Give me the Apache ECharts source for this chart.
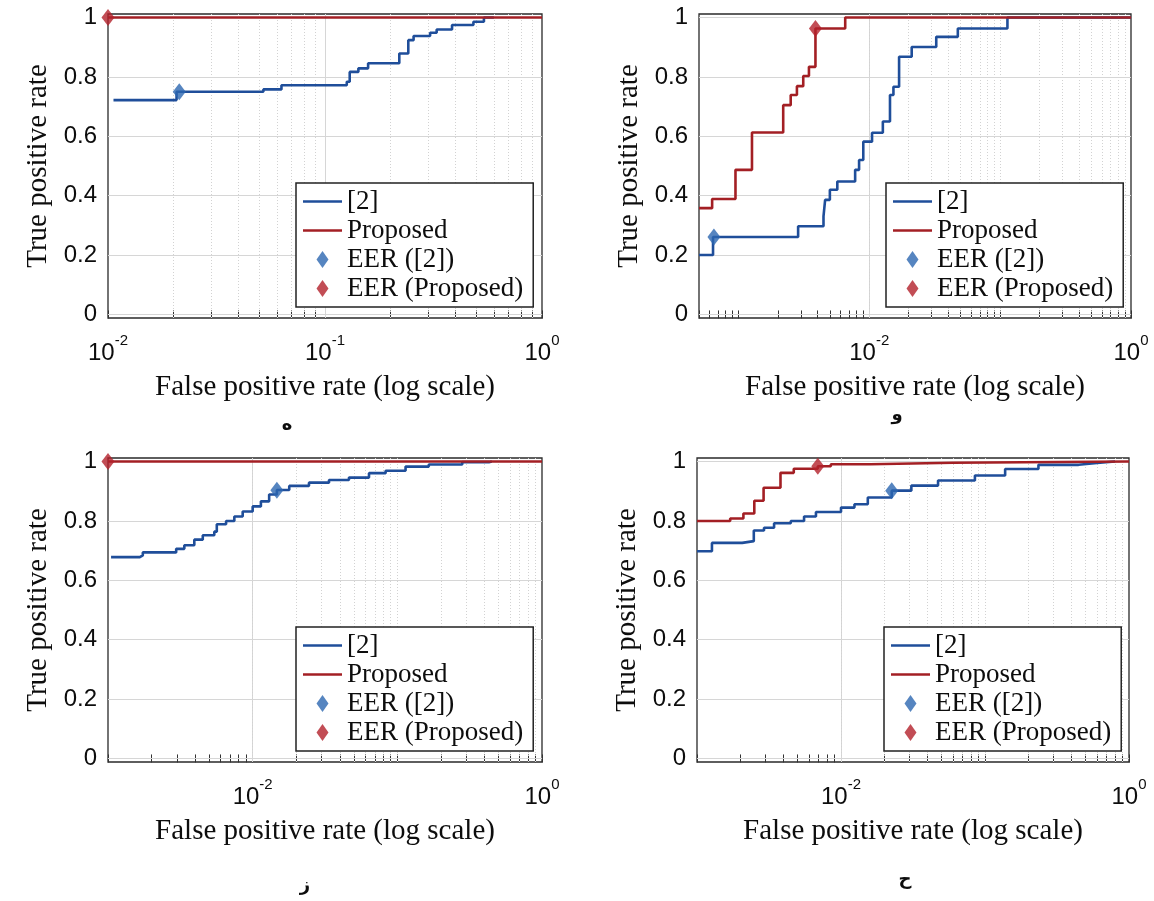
<!DOCTYPE html>
<html>
<head>
<meta charset="utf-8">
<title>ROC curves</title>
<script src="https://cdn.jsdelivr.net/npm/echarts@6/dist/echarts.min.js"></script>
<style>
  html, body { margin: 0; padding: 0; background: #fff; }
  #chart { width: 1154px; height: 901px; }
</style>
</head>
<body>
<div id="chart"></div>
<script>
// names and ticks
const seriesNames = ['[2]', 'Proposed', 'EER ([2])', 'EER (Proposed)'];
const panelLetters = ['ه', 'و', 'ز', 'ح'];
const yTicks = [0, 0.2, 0.4, 0.6, 0.8, 1];
const xTickLabels = [[0.01, 0.1, 1], [0.01, 1], [0.01, 1], [0.01, 1]];
const xMins = [0.01, 0.0005, 0.001, 0.001];

// panel a (top left)
const aRefFpr = [0.0106, 0.0207, 0.052, 0.063, 0.126, 0.13, 0.1425, 0.158, 0.22, 0.242, 0.256, 0.305, 0.327, 0.385, 0.483, 0.54, 0.6];
const aRefTpr = [0.722, 0.75, 0.758, 0.772, 0.784, 0.817, 0.829, 0.846, 0.879, 0.924, 0.938, 0.949, 0.96, 0.975, 0.986, 1.0, 1.0];
const aPropFpr = [0.01, 1];
const aPropTpr = [1, 1];
const aEerRef = [0.0213, 0.75];
const aEerProp = [0.01, 1];

// panel b (top right)
const bRefFpr = [0.0005, 0.00064, 0.00286, 0.00447, 0.0046, 0.005, 0.0057, 0.0078, 0.00836, 0.009, 0.0105, 0.0127, 0.0144, 0.0153, 0.0169, 0.0211, 0.0325, 0.0475, 0.1137, 1];
const bRefTpr = [0.2, 0.261, 0.297, 0.33, 0.386, 0.42, 0.448, 0.487, 0.52, 0.582, 0.612, 0.65, 0.739, 0.767, 0.868, 0.901, 0.935, 0.963, 1.0, 1.0];
const bPropFpr = [0.0005, 0.00063, 0.00095, 0.00127, 0.0022, 0.00251, 0.0028, 0.00313, 0.00346, 0.00388, 0.00655, 1];
const bPropTpr = [0.358, 0.389, 0.487, 0.613, 0.705, 0.739, 0.769, 0.803, 0.834, 0.963, 1.0, 1.0];
const bEerRef = [0.00065, 0.261];
const bEerProp = [0.00388, 0.963];

// panel c (bottom left)
const cRefFpr = [0.00105, 0.00166, 0.00174, 0.00296, 0.00337, 0.00395, 0.00452, 0.00543, 0.00565, 0.00655, 0.00747, 0.00853, 0.01, 0.0114, 0.013, 0.0147, 0.0179, 0.0245, 0.0337, 0.0463, 0.0637, 0.083, 0.114, 0.165, 0.281, 0.43, 0.45];
const cRefTpr = [0.678, 0.684, 0.694, 0.706, 0.718, 0.737, 0.752, 0.764, 0.789, 0.8, 0.815, 0.832, 0.849, 0.866, 0.889, 0.904, 0.918, 0.929, 0.938, 0.946, 0.961, 0.969, 0.983, 0.99, 0.998, 1.0, 1.0];
const cPropFpr = [0.001, 1];
const cPropTpr = [1, 1];
const cEerRef = [0.0147, 0.903];
const cEerProp = [0.001, 1];

// panel d (bottom right)
const dRefFpr = [0.001, 0.00127, 0.00206, 0.00248, 0.00292, 0.00343, 0.00448, 0.00554, 0.0067, 0.01, 0.0124, 0.01535, 0.0225, 0.0308, 0.0472, 0.0851, 0.138, 0.235, 0.447, 0.6, 0.8];
const dRefTpr = [0.698, 0.726, 0.732, 0.768, 0.777, 0.792, 0.8, 0.815, 0.83, 0.845, 0.856, 0.879, 0.902, 0.919, 0.936, 0.953, 0.975, 0.989, 0.995, 1.0, 1.0];
const dPropFpr = [0.001, 0.0017, 0.0021, 0.0025, 0.0029, 0.0038, 0.0047, 0.0069, 0.0085, 0.016, 0.06, 1];
const dPropTpr = [0.8, 0.808, 0.825, 0.868, 0.912, 0.962, 0.976, 0.984, 0.991, 0.996, 1.0, 1.0];
const dEerRef = [0.0225, 0.902];
const dEerProp = [0.0069, 0.984];

const panels = [
  { ref: [aRefFpr, aRefTpr], prop: [aPropFpr, aPropTpr], eer: [aEerRef, aEerProp] },
  { ref: [bRefFpr, bRefTpr], prop: [bPropFpr, bPropTpr], eer: [bEerRef, bEerProp] },
  { ref: [cRefFpr, cRefTpr], prop: [cPropFpr, cPropTpr], eer: [cEerRef, cEerProp] },
  { ref: [dRefFpr, dRefTpr], prop: [dPropFpr, dPropTpr], eer: [dEerRef, dEerProp] }
];

// layout (pixels)
const gridBoxes = [
  { left: 108, top: 14, width: 434, height: 304 },
  { left: 699, top: 14, width: 432, height: 304 },
  { left: 108, top: 458, width: 434, height: 304 },
  { left: 697, top: 458, width: 432, height: 304 }
];
const legendPos = [[296, 183], [886, 183], [296, 627], [884, 627]];
const letterPos = [[287, 425], [897, 415], [305, 886], [905, 880]];

const BLUE = '#1f4e9a';
const RED = '#a31f24';
const BLUE_MK = '#2c66b0';
const RED_MK = '#b3202a';
const INK = '#0d0d0d';
const SERIF = '"Liberation Serif", "Times New Roman", serif';
const SANS = '"Liberation Sans", Arial, sans-serif';
const DIAMOND = 'path://M6,0L12,8.5L6,17L0,8.5Z';
const BAR = 'path://M0,0H40V2.7H0Z';

const zip = (xs, ys) => xs.map((x, i) => [x, ys[i]]);

// decade and 2..9 minor positions inside [min, 1]
function logTicks(min) {
  const major = [], minor = [];
  for (let e = Math.floor(Math.log10(min) + 1e-9); e <= 0; e++) {
    for (let k = 1; k <= 9; k++) {
      const v = +(k * Math.pow(10, e)).toPrecision(6);
      if (v < min * 0.999 || v > 1.0001) continue;
      (k === 1 ? major : minor).push(v);
    }
  }
  return { major, minor };
}

const majorLine = { color: '#d6d6d6', width: 1, type: 'solid' };
const minorLine = { color: '#d2d2d2', width: 1, type: [1, 2] };

const grid = [], xAxis = [], yAxis = [], series = [], legend = [], graphic = [];

panels.forEach((p, i) => {
  const min = xMins[i];
  const t = logTicks(min);
  const allX = t.major.concat(t.minor);
  const labels = xTickLabels[i];

  grid.push(Object.assign({
    show: true, backgroundColor: '#fff', borderColor: '#2a2a2a', borderWidth: 1.3
  }, gridBoxes[i]));

  // bottom axis with labels
  xAxis.push({
    type: 'log', logBase: 10, gridIndex: i, min: min, max: 1, position: 'bottom',
    axisLine: { show: false },
    splitLine: { show: false },
    axisTick: { show: true, inside: true, length: 4, customValues: allX, lineStyle: { color: '#333' } },
    axisLabel: {
      customValues: labels,
      margin: 15,
      formatter: v => '{b|10}{s|' + Math.round(Math.log10(v)) + '}',
      rich: {
        b: { fontFamily: SANS, fontSize: 24, color: INK, lineHeight: 32, verticalAlign: 'bottom' },
        s: { fontFamily: SANS, fontSize: 15, color: INK, lineHeight: 15, verticalAlign: 'top' }
      }
    },
    name: 'False positive rate (log scale)',
    nameLocation: 'middle',
    nameGap: 55,
    nameTextStyle: { fontFamily: SERIF, fontSize: 29, color: INK }
  });
  // top mirror axis (ticks only)
  xAxis.push({
    type: 'log', logBase: 10, gridIndex: i, min: min, max: 1, position: 'top',
    axisLine: { show: false }, splitLine: { show: false }, axisLabel: { show: false },
    axisTick: { show: true, inside: true, length: 4, customValues: allX, lineStyle: { color: '#333' } }
  });

  yAxis.push({
    type: 'value', gridIndex: i, min: -0.012, max: 1.012, position: 'left',
    axisLine: { show: false }, splitLine: { show: false },
    axisTick: { show: true, inside: true, length: 5, customValues: yTicks, lineStyle: { color: '#333' } },
    axisLabel: { customValues: yTicks, margin: 11, fontFamily: SANS, fontSize: 24, color: INK },
    name: 'True positive rate',
    nameLocation: 'middle',
    nameGap: 55,
    nameTextStyle: { fontFamily: SERIF, fontSize: 29, color: INK }
  });
  yAxis.push({
    type: 'value', gridIndex: i, min: -0.012, max: 1.012, position: 'right',
    axisLine: { show: false }, splitLine: { show: false }, axisLabel: { show: false },
    axisTick: { show: true, inside: true, length: 5, customValues: yTicks, lineStyle: { color: '#333' } }
  });

  // grid lines as mark lines drawn under the curves
  const lines = [];
  allX.forEach(v => {
    if (Math.abs(v - min) < 1e-12 || v >= 0.9999) return;
    const solid = labels.some(l => Math.abs(l - v) < 1e-9);
    lines.push({ xAxis: v, lineStyle: solid ? majorLine : minorLine });
  });
  yTicks.forEach(v => lines.push({ yAxis: v, lineStyle: majorLine }));

  const xi = 2 * i, yi = 2 * i;
  series.push({
    name: seriesNames[0], type: 'line', step: 'end', xAxisIndex: xi, yAxisIndex: yi,
    data: zip(p.ref[0], p.ref[1]), symbol: 'none', color: BLUE,
    lineStyle: { color: BLUE, width: 2.6 }, z: 3, animation: false,
    markLine: {
      z: 1, silent: true, symbol: ['none', 'none'], label: { show: false },
      animation: false, emphasis: { disabled: true }, data: lines
    }
  });
  series.push({
    name: seriesNames[1], type: 'line', step: 'end', xAxisIndex: xi, yAxisIndex: yi,
    data: zip(p.prop[0], p.prop[1]), symbol: 'none', color: RED,
    lineStyle: { color: RED, width: 2.6 }, z: 3, animation: false
  });
  series.push({
    name: seriesNames[2], type: 'scatter', xAxisIndex: xi, yAxisIndex: yi,
    data: [p.eer[0]], symbol: 'diamond', symbolSize: [13, 17], color: BLUE_MK,
    itemStyle: { color: BLUE_MK }, z: 4, animation: false
  });
  series.push({
    name: seriesNames[3], type: 'scatter', xAxisIndex: xi, yAxisIndex: yi,
    data: [p.eer[1]], symbol: 'diamond', symbolSize: [13, 17], color: RED_MK,
    itemStyle: { color: RED_MK }, z: 4, animation: false
  });

  legend.push({
    data: [
      { name: seriesNames[0], icon: BAR },
      { name: seriesNames[1], icon: BAR },
      { name: seriesNames[2], icon: DIAMOND },
      { name: seriesNames[3], icon: DIAMOND }
    ],
    orient: 'vertical', selectedMode: false, symbolKeepAspect: true,
    left: legendPos[i][0], top: legendPos[i][1],
    itemWidth: 39, itemHeight: 17, itemGap: 0,
    padding: [4, 10, 4, 7],
    backgroundColor: '#fff', borderColor: '#222', borderWidth: 1.5, borderRadius: 0,
    textStyle: { fontFamily: SERIF, fontSize: 27, color: INK, lineHeight: 29 }
  });

  graphic.push({
    type: 'text', x: letterPos[i][0], y: letterPos[i][1], silent: true,
    style: { text: panelLetters[i], font: 'bold 18px "DejaVu Sans"', fill: INK, align: 'center', verticalAlign: 'middle' }
  });
});

const chart = echarts.init(document.getElementById('chart'), null, { renderer: 'canvas' });
chart.setOption({
  animation: false,
  backgroundColor: '#fff',
  grid, xAxis, yAxis, series, legend, graphic
});
</script>
</body>
</html>
